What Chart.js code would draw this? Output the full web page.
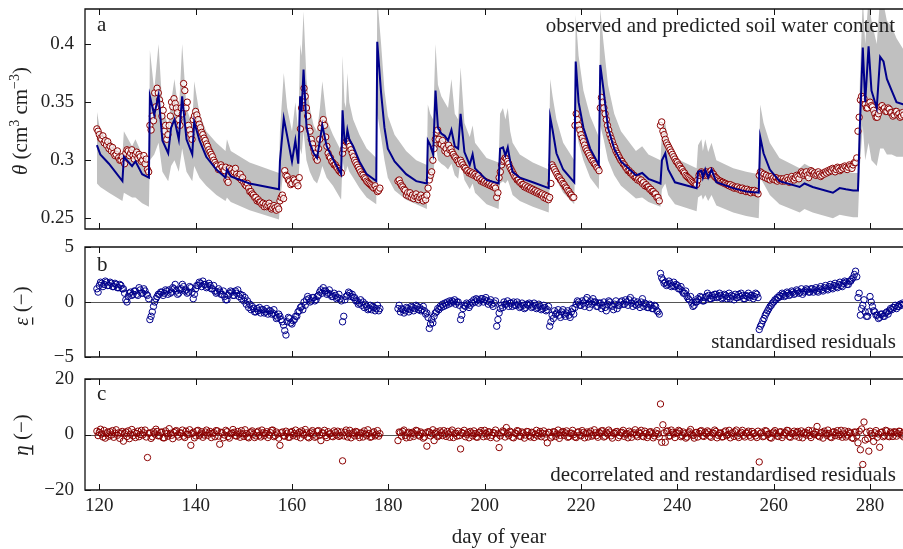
<!DOCTYPE html>
<html><head><meta charset="utf-8">
<script src="https://cdn.jsdelivr.net/npm/chart.js@4.4.0/dist/chart.umd.min.js"></script>
<style>
html,body{margin:0;padding:0;background:#fff;overflow:hidden;width:903px;height:549px;position:relative;}
canvas{position:absolute;left:0;top:0;}
</style></head><body>
<canvas id="ca" width="930" height="549"></canvas>
<canvas id="cb" width="930" height="549"></canvas>
<canvas id="cc" width="930" height="549"></canvas>
<script>
// ---------------- data ----------------
const xTickValues = [120, 140, 160, 180, 200, 220, 240, 260, 280];
const xTickLabels = ['120', '140', '160', '180', '200', '220', '240', '260', '280'];
const thetaTicks = [0.25, 0.3, 0.35, 0.4];
const thetaTickLabels = ['0.25', '0.3', '0.35', '0.4'];
const epsTicks = [-5, 0, 5];
const epsTickLabels = ['\u22125', '0', '5'];
const etaTicks = [-20, 0, 20];
const etaTickLabels = ['\u221220', '0', '20'];

// model prediction (blue line) and its uncertainty band (grey)
const modelDay = [
 119.5,120.2,122.0,124.8,125.1,126.8,127.5,128.9,130.3,130.5,
 131.4,132.3,133.1,134.3,134.9,135.6,136.5,137.2,138.1,139.3,
 139.7,140.8,142.2,144.3,146.2,146.5,147.3,151.2,157.3,157.5,
 158.3,159.0,160.0,160.7,161.3,161.7,162.0,162.4,163.0,163.7,
 164.5,165.2,165.8,166.3,167.2,168.5,170.2,170.5,170.9,171.2,
 171.5,171.9,172.7,174.0,175.5,177.5,177.7,178.5,179.2,179.9,
 181.3,183.7,185.8,188.0,188.2,188.7,189.3,189.8,190.3,191.0,
 191.7,192.4,193.1,193.8,194.5,195.0,195.8,196.9,197.5,198.0,
 200.4,202.9,203.2,203.8,204.3,204.8,205.3,205.8,207.3,210.0,
 213.3,213.6,214.1,214.9,216.3,218.6,218.9,219.5,220.5,221.9,
 223.7,224.0,224.7,225.6,226.9,228.3,231.4,232.7,234.0,236.5,
 236.8,237.5,238.1,239.5,244.0,244.3,245.0,245.3,245.8,246.4,
 247.1,248.1,251.6,254.3,256.9,257.2,257.9,259.2,261.2,265.4,
 266.4,268.1,272.3,273.7,275.0,276.5,277.5,277.9,278.5,279.0,
 279.7,280.3,281.4,282.1,282.8,283.5,284.5,285.5,287.0,288.3];
const modelTheta = [
 0.313,0.305,0.297,0.282,0.303,0.295,0.299,0.288,0.285,0.355,
 0.339,0.356,0.317,0.306,0.328,0.335,0.318,0.355,0.318,0.305,
 0.333,0.317,0.303,0.292,0.285,0.292,0.286,0.280,0.275,0.299,
 0.336,0.321,0.299,0.317,0.297,0.355,0.342,0.378,0.330,0.315,
 0.306,0.302,0.317,0.330,0.312,0.301,0.288,0.343,0.317,0.315,
 0.326,0.318,0.312,0.299,0.288,0.282,0.402,0.358,0.328,0.310,
 0.299,0.288,0.282,0.280,0.317,0.313,0.305,0.360,0.328,0.323,
 0.321,0.317,0.326,0.312,0.310,0.340,0.307,0.296,0.305,0.293,
 0.283,0.280,0.310,0.311,0.304,0.311,0.299,0.290,0.285,0.281,
 0.276,0.337,0.326,0.306,0.292,0.281,0.385,0.350,0.328,0.310,
 0.296,0.382,0.360,0.328,0.310,0.299,0.287,0.289,0.284,0.280,
 0.300,0.306,0.292,0.281,0.276,0.290,0.291,0.285,0.292,0.285,
 0.292,0.281,0.276,0.273,0.272,0.320,0.306,0.292,0.282,0.277,
 0.280,0.277,0.272,0.276,0.275,0.274,0.274,0.330,0.397,0.350,
 0.398,0.360,0.345,0.389,0.385,0.370,0.360,0.350,0.348,0.347];
const bandLow = [
 0.280,0.277,0.272,0.265,0.272,0.268,0.268,0.263,0.260,0.300,
 0.305,0.315,0.290,0.282,0.295,0.300,0.290,0.310,0.290,0.282,
 0.295,0.285,0.278,0.270,0.265,0.268,0.264,0.257,0.249,0.262,
 0.295,0.290,0.277,0.285,0.278,0.310,0.305,0.325,0.300,0.290,
 0.283,0.280,0.287,0.295,0.285,0.278,0.266,0.300,0.290,0.290,
 0.295,0.290,0.285,0.276,0.268,0.262,0.340,0.320,0.300,0.285,
 0.274,0.266,0.262,0.258,0.285,0.285,0.282,0.315,0.300,0.297,
 0.295,0.292,0.297,0.287,0.284,0.300,0.283,0.275,0.280,0.272,
 0.262,0.258,0.280,0.282,0.280,0.283,0.277,0.270,0.265,0.260,
 0.255,0.295,0.292,0.283,0.272,0.262,0.330,0.315,0.300,0.285,
 0.275,0.330,0.318,0.300,0.287,0.278,0.267,0.268,0.264,0.260,
 0.275,0.280,0.270,0.262,0.256,0.268,0.270,0.266,0.270,0.265,
 0.270,0.261,0.255,0.252,0.250,0.285,0.280,0.270,0.262,0.255,
 0.258,0.255,0.250,0.253,0.252,0.251,0.251,0.295,0.330,0.300,
 0.315,0.300,0.295,0.310,0.310,0.305,0.305,0.303,0.303,0.303];
const bandHigh = [
 0.342,0.325,0.318,0.305,0.325,0.312,0.318,0.305,0.300,0.395,
 0.360,0.400,0.345,0.330,0.350,0.370,0.340,0.400,0.345,0.330,
 0.368,0.340,0.325,0.315,0.308,0.318,0.308,0.298,0.289,0.325,
 0.375,0.345,0.325,0.350,0.325,0.400,0.390,0.428,0.370,0.345,
 0.330,0.325,0.345,0.368,0.335,0.322,0.308,0.390,0.350,0.345,
 0.375,0.350,0.335,0.322,0.310,0.302,0.440,0.400,0.360,0.338,
 0.322,0.308,0.300,0.296,0.348,0.340,0.335,0.400,0.365,0.355,
 0.350,0.345,0.370,0.340,0.335,0.380,0.332,0.320,0.330,0.315,
 0.302,0.298,0.340,0.345,0.335,0.345,0.325,0.315,0.305,0.298,
 0.292,0.370,0.355,0.335,0.315,0.300,0.425,0.390,0.360,0.338,
 0.320,0.430,0.400,0.365,0.340,0.325,0.308,0.312,0.305,0.300,
 0.325,0.332,0.315,0.302,0.293,0.313,0.318,0.308,0.318,0.307,
 0.315,0.300,0.293,0.290,0.288,0.348,0.332,0.315,0.302,0.293,
 0.297,0.293,0.288,0.292,0.290,0.289,0.289,0.370,0.440,0.400,
 0.440,0.420,0.400,0.440,0.435,0.420,0.415,0.405,0.395,0.390];

// observations every quarter day from day 119.5 (null = no data); 20 values = 5 days per row
const OBS_START = 119.5;
const OBS_STEP = 0.25;
const obsTheta = [
 0.327,0.325,0.322,0.319,0.318,0.321,0.315,0.317,0.313,0.316,0.310,0.312,0.308,0.311,0.306,0.304,0.305,0.308,0.302,0.300,
 0.300,0.303,0.299,0.297,0.306,0.309,0.308,0.304,0.306,0.309,0.304,0.301,0.305,0.307,0.302,0.305,0.303,0.299,0.300,0.304,
 0.297,0.301,0.292,0.290,0.330,0.326,0.338,0.334,0.358,0.346,0.362,0.358,0.352,0.348,0.338,0.343,0.325,0.330,0.318,0.322,
 0.330,0.338,0.350,0.346,0.353,0.349,0.345,0.341,0.335,0.330,0.345,0.340,0.366,0.360,0.345,0.350,0.330,0.326,0.322,0.318,
 0.335,0.338,0.342,0.339,0.335,0.331,0.328,0.324,0.322,0.319,0.317,0.314,0.312,0.309,0.307,0.305,0.303,0.300,0.298,0.296,
 0.295,0.292,0.293,0.296,0.294,0.291,0.291,0.294,0.283,0.281,0.293,0.290,0.292,0.289,0.290,0.293,0.288,0.286,0.285,0.288,
 0.283,0.285,0.281,0.279,0.278,0.280,0.276,0.273,0.273,0.271,0.270,0.268,0.268,0.265,0.266,0.264,0.264,0.262,0.263,0.260,
 0.262,0.260,0.261,0.263,0.260,0.258,0.259,0.261,0.259,0.257,0.260,0.258,0.265,0.268,0.270,0.267,0.291,0.287,0.286,0.283,
 0.282,0.279,0.280,0.284,0.283,0.280,0.281,0.278,0.285,0.327,0.345,0.352,0.362,0.355,0.345,0.338,0.328,0.325,0.318,0.314,
 0.310,0.306,0.302,0.300,0.310,0.318,0.328,0.332,0.335,0.330,0.320,0.312,0.306,0.303,0.302,0.299,0.298,0.296,0.296,0.294,
 0.293,0.291,0.290,0.289,0.306,0.310,0.313,0.316,0.316,0.314,0.312,0.309,0.306,0.303,0.300,0.298,0.296,0.294,0.292,0.290,
 0.288,0.287,0.285,0.284,0.282,0.281,0.280,0.279,0.278,0.277,0.276,0.278,0.275,0.273,0.274,0.276,null,null,null,null,
 null,null,null,null,null,null,null,null,null,null,0.282,0.283,0.280,0.278,0.277,0.275,0.274,0.270,0.272,0.269,
 0.272,0.268,0.270,0.267,0.269,0.271,0.268,0.266,0.268,0.270,0.267,0.265,0.268,0.266,0.270,0.276,0.283,0.287,0.290,0.300,
 0.310,0.318,0.324,0.326,0.318,0.314,0.314,0.317,0.312,0.308,0.310,0.306,0.313,0.309,0.310,0.307,0.305,0.303,0.302,0.300,
 0.299,0.297,0.300,0.298,0.296,0.294,0.293,0.291,0.291,0.289,0.290,0.288,0.289,0.287,0.288,0.286,0.285,0.287,0.284,0.282,
 0.283,0.281,0.282,0.280,0.281,0.279,0.280,0.278,0.279,0.277,0.278,0.276,0.268,0.272,0.285,0.290,0.296,0.299,0.300,0.302,
 0.301,0.299,0.297,0.294,0.292,0.290,0.288,0.286,0.285,0.283,0.283,0.281,0.281,0.279,0.279,0.277,0.278,0.276,0.277,0.275,
 0.276,0.274,0.275,0.273,0.274,0.272,0.273,0.271,0.272,0.270,0.271,0.268,0.270,0.267,0.269,0.266,0.268,0.280,0.296,0.294,
 0.292,0.290,0.288,0.286,0.285,0.283,0.282,0.280,0.279,0.277,0.276,0.274,0.273,0.271,0.270,0.268,0.268,0.330,0.340,0.335,
 0.330,0.326,0.322,0.319,0.316,0.313,0.310,0.308,0.306,0.304,0.302,0.300,0.299,0.297,0.296,0.294,0.293,0.291,0.345,0.354,
 0.350,0.345,0.340,0.335,0.330,0.326,0.322,0.319,0.316,0.313,0.311,0.308,0.306,0.304,0.302,0.300,0.299,0.297,0.296,0.294,
 0.293,0.291,0.291,0.289,0.289,0.287,0.287,0.285,0.285,0.283,0.284,0.282,0.283,0.280,0.281,0.278,0.279,0.277,0.277,0.275,
 0.275,0.273,0.273,0.271,0.271,0.268,0.268,0.265,0.330,0.333,0.325,0.322,0.318,0.315,0.313,0.311,0.309,0.307,0.305,0.303,
 0.301,0.299,0.298,0.296,0.295,0.293,0.292,0.290,0.289,0.287,0.286,0.285,0.284,0.283,0.282,0.281,0.280,0.279,0.279,0.283,
 0.287,0.289,0.290,0.288,0.287,0.289,0.290,0.287,0.288,0.290,0.291,0.289,0.288,0.286,0.285,0.284,0.283,0.282,0.282,0.281,
 0.281,0.280,0.280,0.279,0.279,0.278,0.279,0.277,0.278,0.276,0.277,0.276,0.277,0.275,0.276,0.274,0.276,0.274,0.275,0.273,
 0.275,0.273,0.274,0.272,0.274,0.273,0.274,0.272,0.273,0.271,0.287,0.290,0.289,0.286,0.288,0.285,0.287,0.284,0.286,0.283,
 0.286,0.284,0.285,0.283,0.285,0.282,0.284,0.283,0.284,0.282,0.284,0.282,0.283,0.285,0.283,0.281,0.284,0.286,0.284,0.283,
 0.285,0.287,0.286,0.284,0.288,0.290,0.289,0.287,0.288,0.290,0.287,0.285,0.289,0.291,0.290,0.288,0.289,0.287,0.288,0.290,
 0.288,0.286,0.287,0.289,0.288,0.290,0.289,0.291,0.290,0.292,0.291,0.293,0.292,0.290,0.292,0.294,0.293,0.291,0.292,0.294,
 0.293,0.295,0.294,0.292,0.294,0.296,0.295,0.293,0.296,0.298,0.298,0.302,0.325,0.337,0.352,0.355,0.350,0.353,0.348,0.345,
 0.345,0.349,0.350,0.347,0.346,0.343,0.340,0.337,0.337,0.340,0.343,0.346,0.347,0.344,0.345,0.342,0.342,0.345,0.344,0.341,
 0.341,0.338,0.339,0.342,0.342,0.339,0.340,0.337,0.338,0.341,0.339];
const residStd = [
 1.2,0.9,1.5,1.8,1.7,1.4,1.6,1.9,1.8,1.5,1.5,1.8,1.7,1.4,1.4,1.7,1.6,1.3,1.3,1.6,
 1.5,1.2,1.2,0.8,0.2,0.0,0.5,0.8,0.9,0.6,0.7,1.0,1.0,0.7,0.6,1.3,1.1,0.8,0.8,1.2,
 1.0,0.7,0.6,0.3,-1.6,-1.3,-0.9,-0.4,0.0,0.3,0.5,0.7,0.7,0.9,0.9,0.6,0.8,1.1,1.0,0.7,
 1.1,0.8,0.9,1.3,1.2,1.6,1.0,0.7,0.8,1.1,1.2,1.6,1.4,1.0,1.1,0.8,0.9,1.4,1.3,0.9,
 0.3,0.7,1.2,1.5,1.5,1.8,1.7,1.4,1.9,1.6,1.6,1.3,1.4,1.7,1.5,1.2,1.2,1.5,1.0,0.8,
 0.9,1.2,1.0,0.7,0.7,1.0,0.5,0.2,0.2,0.6,0.8,1.0,0.9,0.6,0.6,1.0,0.8,1.1,0.5,0.7,
 0.3,0.6,0.1,0.4,-0.2,0.1,-0.5,-0.2,-0.7,-0.4,-0.6,-0.9,-0.9,-0.6,-0.8,-0.5,-1.0,-0.7,-0.7,-1.0,
 -0.9,-0.6,-1.1,-0.8,-0.8,-1.1,-1.0,-0.7,-1.2,-1.5,-1.4,-1.1,-1.3,-1.6,-1.8,-2.1,-2.6,-3.0,-1.8,-1.4,
 -1.5,-1.9,-2.0,-1.7,-1.6,-1.3,-1.3,-0.9,-0.8,-0.5,-0.4,-0.7,0.0,-0.3,0.2,0.5,0.3,0.0,0.1,0.4,
 0.4,0.1,0.2,0.5,0.6,0.9,1.1,0.8,1.3,1.0,1.0,0.7,0.8,1.1,0.7,0.5,0.5,0.8,0.6,0.3,
 0.4,0.7,0.3,0.1,-1.8,-1.3,0.2,0.5,0.6,0.9,0.8,0.5,0.7,0.4,0.4,0.1,0.1,-0.2,-0.1,0.2,
 -0.3,0.0,-0.5,-0.2,-0.4,-0.7,-0.6,-0.3,-0.7,-0.4,-0.5,-0.8,-0.6,-0.3,-0.8,-0.6,null,null,null,null,
 null,null,null,null,null,null,null,null,null,null,-0.6,-0.3,-0.9,-0.6,-0.7,-1.0,-0.8,-0.5,-0.6,-0.9,
 -0.7,-0.4,-0.5,-0.8,-0.6,-0.3,-0.4,-0.7,-0.5,-0.8,-0.7,-0.4,-0.8,-1.1,-1.0,-1.4,-2.4,-2.0,-1.6,-1.9,
 -1.3,-1.0,-0.9,-0.6,-0.7,-0.4,-0.5,-0.2,-0.4,-0.1,-0.3,0.0,-0.2,0.1,-0.1,0.1,0.0,0.2,-0.2,0.0,
 0.0,-0.3,-1.6,-1.2,-0.6,-0.3,-0.4,-0.1,-0.2,-0.5,-0.3,0.0,-0.1,0.2,0.0,0.3,0.2,-0.1,0.1,0.3,
 0.3,0.0,0.2,0.4,0.1,-0.2,0.0,0.2,-0.2,-0.4,-0.1,0.1,-2.2,-1.6,-1.0,-0.6,-0.3,-0.5,0.0,-0.2,
 -0.2,0.1,-0.4,-0.1,-0.1,-0.4,0.0,-0.3,-0.3,0.0,-0.2,-0.5,-0.4,-0.1,-0.3,-0.6,-0.5,-0.2,-0.3,-0.1,
 -0.2,-0.5,-0.4,-0.1,-0.3,-0.6,-0.5,-0.2,-0.4,-0.7,-0.6,-0.3,-0.5,-0.8,-0.7,-0.4,-2.2,-1.8,-1.2,-1.5,
 -0.8,-1.1,-1.0,-0.7,-1.2,-1.4,-0.9,-0.7,-1.1,-1.3,-1.0,-0.8,-1.2,-1.4,-0.9,-0.6,-1.1,-0.5,-0.2,0.1,
 0.0,-0.3,-0.3,0.1,-0.1,-0.4,0.2,0.4,-0.2,-0.5,0.1,-0.2,0.3,0.0,0.0,-0.4,-0.4,-0.1,-0.1,-0.6,
 -0.3,0.0,-0.5,-0.8,-0.2,0.1,0.0,-0.3,-0.4,-0.7,-0.2,0.1,-0.6,-0.3,-0.3,0.0,0.1,-0.2,-0.2,0.2,
 0.0,-0.3,0.2,0.4,-0.1,-0.4,0.1,-0.2,-0.3,0.0,-0.2,-0.5,0.0,0.3,-0.4,-0.1,-0.2,-0.5,-0.5,-0.2,
 -0.3,-0.6,-0.6,-0.3,-0.4,-0.8,-0.9,-1.1,2.6,2.2,2.0,1.7,1.8,1.5,1.6,1.9,1.7,1.4,1.5,1.8,
 1.4,1.6,1.5,1.2,1.2,1.4,1.0,0.8,0.8,1.0,0.5,0.3,0.2,0.5,-0.1,-0.4,-0.3,0.0,0.0,0.3,
 0.2,0.5,0.4,0.1,0.1,0.4,0.5,0.8,0.6,0.3,0.3,0.6,0.4,0.7,0.7,0.4,0.5,0.8,0.6,0.3,
 0.4,0.7,0.6,0.3,0.5,0.8,0.3,0.6,0.5,0.2,0.7,0.4,0.4,0.7,0.5,0.8,0.6,0.3,0.3,0.6,
 0.5,0.8,0.4,0.6,0.6,0.3,0.5,0.8,0.7,0.4,-2.5,-2.2,-2.0,-1.7,-1.5,-1.2,-1.0,-0.8,-0.6,-0.4,
 -0.3,-0.1,0.0,0.2,0.2,0.4,0.4,0.6,0.5,0.8,0.7,0.5,0.6,0.9,0.8,0.6,0.7,1.0,0.9,0.7,
 0.8,1.1,1.0,0.8,0.9,1.2,0.7,0.9,1.0,1.2,1.1,0.9,0.9,1.2,1.2,0.9,1.1,1.3,1.0,0.9,
 1.2,1.4,1.1,1.0,1.3,1.5,1.2,1.1,1.4,1.6,1.3,1.2,1.5,1.7,1.4,1.3,1.6,1.8,1.5,1.4,
 1.7,1.9,1.8,1.6,1.6,1.9,1.9,2.1,2.2,2.5,2.8,2.3,0.4,0.8,-1.2,-0.6,-0.3,0.2,-0.9,-1.3,
 -1.3,-0.9,0.5,0.0,-0.4,-0.8,-0.9,-1.2,-1.2,-1.5,-1.4,-1.1,-1.1,-1.3,-1.3,-1.0,-0.9,-1.1,-0.8,-0.6,
 -0.7,-0.5,-0.5,-0.3,-0.6,-0.4,-0.4,-0.2,-0.3,-0.1,-0.2];
const residDecor = [
 1.2,-0.4,0.8,1.9,0.2,-0.9,1.5,-1.3,0.3,0.9,-0.6,1.0,-0.2,1.4,-1.0,0.5,1.7,-0.3,0.6,-1.4,
 0.5,1.1,-2.4,0.3,0.9,-0.7,1.3,-1.5,0.1,1.8,-0.5,0.7,-1.1,0.4,1.2,-0.8,0.0,1.5,-0.2,0.6,
 1.6,-0.9,-8.3,0.4,0.6,-1.4,-0.8,1.0,0.2,1.9,1.1,-0.5,-0.4,0.8,0.9,-1.2,-1.2,1.3,0.3,-0.6,
 2.1,0.4,-0.3,-1.5,0.7,1.2,1.4,-0.2,-0.9,0.6,0.5,1.6,-0.6,-1.1,1.2,0.1,0.0,1.7,-3.9,0.3,
 0.8,-1.2,-0.5,1.3,1.5,-0.4,0.2,1.0,-1.0,-0.2,0.9,1.6,-0.3,0.5,1.1,-1.1,0.4,0.7,-0.8,1.4,
 1.3,-0.6,-3.5,0.8,0.6,-1.2,-0.2,1.5,1.0,-0.7,-1.3,0.3,0.5,1.8,0.8,-0.4,-0.6,1.1,0.2,-1.0,
 1.4,0.3,-0.7,1.7,0.3,-0.9,-1.2,0.6,0.9,1.3,0.1,-1.1,-0.5,0.8,1.2,-0.3,-0.9,1.6,0.6,-0.4,
 0.4,1.0,-1.1,-0.2,0.7,1.5,1.6,-0.8,-0.4,0.9,0.2,-1.3,-3.9,0.6,0.9,-0.5,-0.6,1.2,0.5,-1.0,
 -1.0,0.7,1.1,-0.4,0.3,1.6,-0.7,0.2,0.8,-1.2,1.3,0.5,-0.2,1.8,0.6,-0.9,-1.2,0.4,0.9,1.4,
 0.1,-1.0,-0.6,1.2,1.4,-0.3,-2.2,0.6,0.5,1.5,-0.4,-1.1,1.0,0.2,0.3,-0.6,-0.8,1.3,0.7,-0.2,
 1.2,-0.7,-0.3,0.9,-9.5,-0.5,0.8,1.6,-0.9,0.3,1.5,-1.2,0.2,0.7,-0.5,1.1,0.9,-0.3,-1.1,0.5,
 0.6,-0.9,1.3,0.2,-0.4,1.7,0.4,-1.0,-0.8,0.6,1.0,-0.5,0.1,1.4,-0.6,0.3,null,null,null,null,
 null,null,null,null,null,null,null,null,null,null,-2.2,0.9,0.7,-0.6,1.1,1.6,-0.4,-1.2,0.5,0.8,
 -1.0,0.4,0.8,-0.7,0.2,1.5,1.3,-0.2,-0.6,0.9,0.4,-1.3,-0.9,0.6,-4.2,1.0,0.9,-0.5,0.3,1.7,
 -2.2,0.4,1.0,-0.8,-0.3,1.3,0.6,-0.4,1.4,0.2,-0.7,1.1,0.2,-1.0,0.9,1.6,-1.1,0.3,0.5,-0.6,
 1.2,-0.4,-5.2,0.7,0.4,1.5,-0.8,0.1,0.7,-1.2,1.1,0.5,-0.5,1.3,0.3,-0.9,-1.0,0.6,0.8,1.4,
 0.2,-0.8,1.5,0.4,-0.6,1.0,0.9,-1.1,-0.3,0.7,0.5,1.6,-1.3,0.2,-4.7,-0.5,0.6,1.3,1.0,-0.9,
 2.5,0.3,-0.4,1.2,0.8,-1.0,-1.2,0.5,0.3,1.4,1.2,-0.6,-0.7,0.9,0.5,-1.3,-0.2,1.1,1.0,-0.4,
 -0.9,0.8,0.6,-1.1,0.1,1.5,-0.5,0.4,1.1,-0.8,0.4,1.3,-1.0,0.2,-3.0,0.8,0.7,-1.2,-0.6,1.0,
 0.9,-0.7,0.2,1.6,-1.4,-0.3,0.8,1.1,-0.3,0.6,1.3,-1.0,-0.8,0.4,0.5,1.5,0.0,-0.9,-1.1,0.7,
 1.0,-0.2,-0.5,1.4,0.7,-1.2,0.3,0.9,-0.9,0.5,1.2,-0.6,-0.2,1.7,0.6,-0.4,-1.0,0.8,0.4,1.3,
 1.4,-0.9,-0.6,0.8,0.2,1.6,0.9,-0.5,-1.3,0.4,0.5,1.0,1.1,-1.1,-0.4,0.6,0.8,1.5,-0.7,0.1,
 0.3,-1.2,1.2,0.6,-1.0,0.2,0.6,1.7,-0.2,-0.8,0.9,0.4,1.5,-0.6,-0.8,1.2,0.4,-1.1,-0.3,0.9,
 1.0,0.3,-1.2,-0.5,0.5,1.4,0.2,-0.9,11.0,-2.8,3.5,0.6,-2.8,1.1,1.3,-0.6,-0.5,1.6,0.8,0.2,
 -1.1,0.5,0.6,1.5,1.2,-0.8,-0.4,0.9,0.3,-1.3,-0.9,0.6,1.0,1.8,0.1,-0.4,-1.3,0.7,0.7,-0.9,
 0.4,1.2,1.4,-0.5,-0.7,0.8,0.2,1.3,0.9,-0.6,-1.0,0.5,0.5,1.6,1.1,-1.2,-0.3,0.4,0.6,-0.9,
 -0.8,0.9,1.3,-0.4,0.0,1.5,-1.2,0.3,0.7,-0.7,1.0,1.6,-0.5,-1.1,0.3,0.8,1.5,-0.3,-0.9,0.5,
 0.6,1.2,-0.3,-1.0,1.1,0.3,0.4,-0.5,-1.1,1.2,-9.9,0.4,0.8,-0.8,-0.6,1.4,1.2,0.0,0.2,-1.1,
 -1.3,0.5,0.9,1.4,0.3,-0.6,-0.7,0.9,1.0,-1.1,-0.2,0.6,0.6,1.5,1.4,-0.8,-1.0,0.3,0.4,1.2,
 -0.5,0.7,1.1,-1.0,0.2,1.3,-1.2,0.5,0.8,-0.2,0.5,1.5,-0.4,-1.1,1.3,0.2,0.1,0.9,2.9,-0.5,
 -0.8,0.6,0.7,-1.3,1.2,0.4,-0.3,1.6,0.4,-0.9,-1.1,0.8,1.0,-0.4,0.6,1.4,-0.6,0.0,1.5,-1.0,
 0.2,1.3,-0.9,-0.2,1.1,0.6,0.5,-1.2,-1.4,0.9,0.8,-0.5,-3.0,1.2,-5.5,2.0,-10.8,4.5,-2.0,0.8,
 -1.5,-6.0,1.2,0.3,-0.4,-2.5,0.6,1.4,-1.0,0.2,-4.6,0.7,0.9,-0.8,-0.4,1.5,1.3,-0.6,-0.8,0.9,
 0.5,-0.7,1.0,0.8,-0.6,0.3,1.2,1.1,-0.2,0.4,-0.9];

// ---------------- texts ----------------
const panelLabels = ['a', 'b', 'c'];
const panelNotes = ['observed and predicted soil water content', 'standardised residuals',
  'decorrelated and restandardised residuals'];
const xTitle = 'day of year';

// ---------------- drawing ----------------
const SERIF = '"Liberation Serif", "DejaVu Serif", serif';
const FS = 19;      // tick labels
const FT = 21;      // other text
const TEXT = '#222';
const X_MIN = 117.03, X_MAX = 288.3;
const dayAxis = arr => arr.map((_, i) => OBS_START + i * OBS_STEP);
const toXY = (xs, ys) => xs.map((x, i) => ({x: x, y: ys[i]}));

function fontFor(s) {
  const size = s.sup ? 14 : FT;
  return (s.it ? 'italic ' : '') + size + 'px ' + SERIF;
}
function drawRich(ctx, segs, cx, cy, rotate) {
  ctx.save();
  ctx.translate(cx, cy);
  if (rotate) ctx.rotate(-Math.PI / 2);
  let total = 0;
  segs.forEach(s => { ctx.font = fontFor(s); s.w = ctx.measureText(s.t).width; total += s.w; });
  let x = -total / 2;
  const base = 6;
  ctx.textAlign = 'left';
  ctx.textBaseline = 'alphabetic';
  ctx.fillStyle = TEXT;
  segs.forEach(s => {
    ctx.font = fontFor(s);
    ctx.fillText(s.t, x, base + (s.sup ? -8 : 0));
    if (s.ul) ctx.fillRect(x + 1, base + 4, s.w - 1, 1.3);
    x += s.w;
  });
  ctx.restore();
}

const panelPlugin = {
  id: 'panel',
  beforeDatasetsDraw(chart, args, o) {
    if (!o.zero) return;
    const {ctx, chartArea: a, scales: {y}} = chart;
    const py = Math.round(y.getPixelForValue(0)) + 0.5;
    ctx.save();
    ctx.strokeStyle = '#555'; ctx.lineWidth = 1;
    ctx.beginPath(); ctx.moveTo(a.left, py); ctx.lineTo(a.right, py); ctx.stroke();
    ctx.restore();
  },
  afterDraw(chart, args, o) {
    const {ctx, chartArea: a, scales: {x, y}} = chart;
    ctx.save();
    ctx.strokeStyle = '#111'; ctx.lineWidth = 1.3;
    ctx.beginPath();
    ctx.moveTo(a.right, a.top); ctx.lineTo(a.left, a.top);
    ctx.lineTo(a.left, a.bottom); ctx.lineTo(a.right, a.bottom);
    ctx.stroke();
    ctx.lineWidth = 1;
    ctx.beginPath();
    xTickValues.forEach(v => {
      const px = Math.round(x.getPixelForValue(v)) + 0.5;
      ctx.moveTo(px, a.top); ctx.lineTo(px, a.top + 6);
      ctx.moveTo(px, a.bottom); ctx.lineTo(px, a.bottom - 6);
    });
    y.ticks.forEach(t => {
      const py = Math.round(y.getPixelForValue(t.value)) + 0.5;
      ctx.moveTo(a.left, py); ctx.lineTo(a.left + 6, py);
    });
    ctx.stroke();
    ctx.fillStyle = TEXT;
    ctx.font = FT + 'px ' + SERIF;
    ctx.textBaseline = 'alphabetic';
    ctx.textAlign = 'left';
    ctx.fillText(o.label, o.labelX, o.labelY);
    ctx.textAlign = 'right';
    ctx.fillText(o.note, o.noteX, o.noteY);
    if (o.xTitle) { ctx.textAlign = 'center'; ctx.fillText(o.xTitle, o.xTitleX, o.xTitleY); }
    drawRich(ctx, o.yTitle, o.yTitleX, o.yTitleY, true);
    ctx.restore();
  }
};

function makeScales(yMin, yMax, yTicks, yLabels, showX) {
  return {
    x: {
      type: 'linear', min: X_MIN, max: X_MAX, display: showX,
      grid: {display: false, drawTicks: false}, border: {display: false},
      ticks: {color: TEXT, padding: 5, font: {family: SERIF, size: FS},
        callback: (v, i) => xTickLabels[i]},
      afterBuildTicks: s => { s.ticks = xTickValues.map(v => ({value: v})); },
      afterFit: s => {
        s.paddingLeft = 0; s.paddingRight = 0;
        s.height = showX ? 30 : 0;
      }
    },
    y: {
      type: 'linear', min: yMin, max: yMax,
      grid: {display: false, drawTicks: false}, border: {display: false},
      ticks: {color: TEXT, padding: 11, font: {family: SERIF, size: FS},
        callback: (v, i) => yLabels[i]},
      afterBuildTicks: s => { s.ticks = yTicks.map(v => ({value: v})); },
      afterFit: s => { s.width = 85; s.paddingTop = 0; s.paddingBottom = 0; }
    }
  };
}

function commonOptions(padding, scales, panel) {
  return {
    responsive: false, animation: false, devicePixelRatio: 1, events: [],
    layout: {padding: padding},
    scales: scales,
    plugins: {legend: {display: false}, tooltip: {enabled: false}, panel: panel}
  };
}

const RED = '#8b0000', BLUE = '#00008b';
const PT = {showLine: false, pointRadius: 3.2, pointBorderWidth: 1};

new Chart(document.getElementById('ca'), {
  type: 'line',
  data: {datasets: [
    {data: toXY(modelDay, modelTheta), borderColor: BLUE, borderWidth: 2, pointRadius: 0, fill: false, tension: 0, order: 0},
    Object.assign({data: toXY(dayAxis(obsTheta), obsTheta), pointBorderColor: RED,
      pointBackgroundColor: 'rgba(255,255,255,0.75)', order: 1}, PT),
    {data: toXY(modelDay, bandHigh), borderWidth: 0, borderColor: 'rgba(0,0,0,0)', pointRadius: 0,
      fill: '+1', backgroundColor: '#c0c0c0', tension: 0, order: 2},
    {data: toXY(modelDay, bandLow), borderWidth: 0, borderColor: 'rgba(0,0,0,0)', pointRadius: 0,
      fill: false, tension: 0, order: 3}
  ]},
  options: commonOptions({top: 9, bottom: 320, left: 0, right: 20},
    makeScales(0.2408, 0.4302, thetaTicks, thetaTickLabels, false),
    {label: panelLabels[0], labelX: 97, labelY: 31, note: panelNotes[0], noteX: 895, noteY: 32,
     zero: false, yTitleX: 21, yTitleY: 121,
     yTitle: [{t: '\u03b8', it: true}, {t: ' (cm'}, {t: '3', sup: true}, {t: ' cm'}, {t: '\u22123', sup: true}, {t: ')'}]}),
  plugins: [panelPlugin]
});

new Chart(document.getElementById('cb'), {
  type: 'line',
  data: {datasets: [
    Object.assign({data: toXY(dayAxis(residStd), residStd), pointBorderColor: BLUE,
      pointBackgroundColor: 'rgba(255,255,255,0)'}, PT)
  ]},
  options: commonOptions({top: 247, bottom: 192, left: 0, right: 20},
    makeScales(-5, 5, epsTicks, epsTickLabels, false),
    {label: panelLabels[1], labelX: 97, labelY: 271, note: panelNotes[1], noteX: 896, noteY: 348,
     zero: true, yTitleX: 22, yTitleY: 306,
     yTitle: [{t: '\u03b5', it: true, ul: true}, {t: ' (\u2212)'}]}),
  plugins: [panelPlugin]
});

new Chart(document.getElementById('cc'), {
  type: 'line',
  data: {datasets: [
    Object.assign({data: toXY(dayAxis(residDecor), residDecor), pointBorderColor: RED,
      pointBackgroundColor: 'rgba(255,255,255,0)'}, PT)
  ]},
  options: commonOptions({top: 379, bottom: 29, left: 0, right: 20},
    makeScales(-20, 20, etaTicks, etaTickLabels, true),
    {label: panelLabels[2], labelX: 97, labelY: 400, note: panelNotes[2], noteX: 896, noteY: 481,
     zero: true, yTitleX: 22, yTitleY: 435, xTitle: xTitle, xTitleX: 499, xTitleY: 543,
     yTitle: [{t: '\u03b7', it: true, ul: true}, {t: ' (\u2212)'}]}),
  plugins: [panelPlugin]
});
</script></body></html>
